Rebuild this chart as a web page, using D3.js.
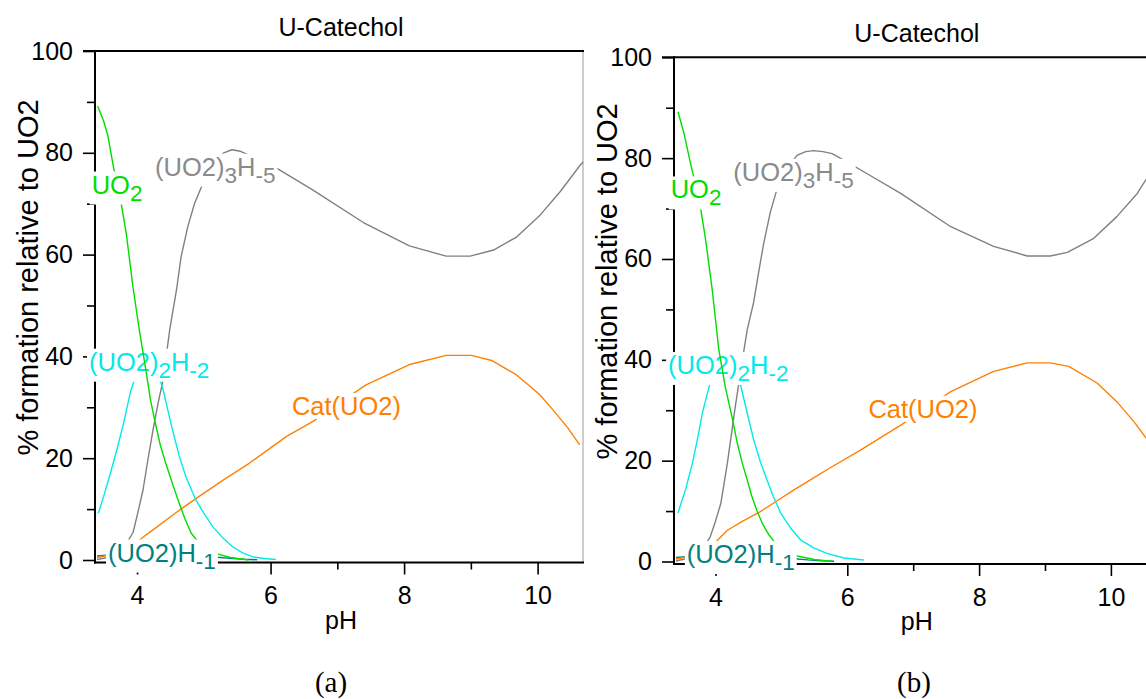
<!DOCTYPE html>
<html>
<head>
<meta charset="utf-8">
<script src="https://cdnjs.cloudflare.com/ajax/libs/d3/7.8.5/d3.min.js"></script>
<style>
  html, body { margin: 0; padding: 0; background: #fff; }
  svg { display: block; }
  text { font-family: "Liberation Sans", Arial, Helvetica, sans-serif; }
</style>
</head>
<body>
<svg id="chart" width="1146" height="699"></svg>
<script>
// ---- axis settings -------------------------------------------------------
const PH_DOMAIN = [3.37, 10.68];
const PCT_DOMAIN = [0, 100];
const PH_MAJOR = [4, 6, 8, 10];
const PH_MINOR = [5, 7, 9];
const PCT_MAJOR = [0, 20, 40, 60, 80, 100];
const PCT_MINOR = [10, 30, 50, 70, 90];

// ---- species distribution, panel (a): [pH, % formation] ------------------
const uo2A = [[3.41,89.2],[3.5,86.2],[3.56,83.5],[3.65,77],[3.76,70.2],[3.84,64],[3.94,53.5],[4.03,45.5],[4.13,37.5],[4.2,31.5],[4.28,26.5],[4.35,22.5],[4.43,19],[4.53,15],[4.63,11.2],[4.72,8],[4.81,5.3],[4.9,3.8],[5.0,2.6],[5.2,1.2],[5.4,0.5],[5.67,0]];
const dimerA = [[3.42,9.2],[3.5,12.5],[3.6,17],[3.7,21.8],[3.8,27],[3.9,33],[4.0,37],[4.1,39],[4.2,39.3],[4.3,37.3],[4.39,33.5],[4.46,29.5],[4.53,25.6],[4.63,20.5],[4.73,16.4],[4.88,11.8],[5.0,9.2],[5.13,6.6],[5.28,4.4],[5.43,2.6],[5.58,1.4],[5.73,0.65],[5.9,0.3],[6.08,0.1]];
const trimerA = [[3.4,0.1],[3.6,0.6],[3.75,1.8],[3.85,3.4],[3.94,5.4],[4.01,9.2],[4.09,13.8],[4.16,19.5],[4.24,25.6],[4.31,30.5],[4.39,35.4],[4.49,45.3],[4.59,53],[4.66,59.6],[4.76,65.5],[4.86,70],[4.99,74.1],[5.15,77.8],[5.3,80],[5.42,80.6],[5.55,80.3],[5.8,78.8],[6.09,77],[6.63,72.7],[7.39,66.3],[8.08,61.7],[8.63,59.7],[8.99,59.7],[9.34,60.9],[9.69,63.5],[10.04,67.8],[10.34,72.4],[10.64,77.6],[10.68,78.2]];
const catA = [[3.4,0.5],[3.6,1.0],[3.8,2.0],[4.0,3.5],[4.13,4.9],[4.3,6.5],[4.5,8.5],[4.7,10.4],[4.93,12.5],[5.3,15.8],[5.68,19],[6.24,24.3],[6.63,27.2],[7.0,30.6],[7.43,34.4],[8.08,38.4],[8.63,40.2],[9.01,40.2],[9.31,39.2],[9.68,36.4],[10.03,32.5],[10.23,29.5],[10.45,26],[10.63,22.6]];
const hydroxoA = [[3.4,0.8],[3.6,1.0],[3.9,1.3],[4.2,1.4],[4.5,1.3],[4.8,1.0],[5.0,0.8],[5.2,0.55],[5.4,0.32],[5.6,0.15],[5.8,0.05]];

// ---- species distribution, panel (b) -------------------------------------
const uo2B = [[3.43,89.2],[3.52,85],[3.62,79],[3.7,74.5],[3.77,70.4],[3.85,63.8],[3.95,53.9],[4.05,42],[4.15,34.5],[4.25,28.7],[4.33,23.5],[4.4,19.8],[4.48,16.2],[4.55,13],[4.63,10],[4.72,7.3],[4.81,5.3],[4.9,3.8],[5.0,2.6],[5.24,1.1],[5.5,0.4],[5.75,0.05]];
const dimerB = [[3.43,9.6],[3.55,14.5],[3.65,19.5],[3.73,24.5],[3.8,29.4],[3.87,33],[3.93,36],[4.03,38.5],[4.15,39.5],[4.25,38.5],[4.32,37],[4.38,35],[4.48,29.5],[4.58,24.1],[4.68,19.8],[4.78,16.2],[4.88,12.8],[4.99,9.6],[5.14,6.6],[5.29,4.3],[5.49,2.7],[5.69,1.6],[5.95,0.7],[6.25,0.3]];
const trimerB = [[3.4,0.1],[3.6,0.7],[3.75,2],[3.85,3.4],[3.92,4.9],[4.0,8],[4.08,11.5],[4.18,19.5],[4.3,30.7],[4.4,39.3],[4.48,45.9],[4.58,51.5],[4.66,57.8],[4.73,63],[4.83,69.2],[4.945,74.4],[5.1,78.2],[5.24,80.6],[5.37,81.3],[5.49,81.5],[5.63,81.3],[5.77,80.9],[6.0,79.2],[6.25,77.3],[6.81,73],[7.57,66.4],[8.22,62.5],[8.73,60.6],[9.08,60.6],[9.34,61.3],[9.74,64.1],[10.09,68.4],[10.4,73],[10.53,75.7],[10.68,78.5]];
const catB = [[3.4,0.5],[3.6,1.0],[3.8,2.0],[4.0,3.8],[4.18,6.2],[4.4,7.9],[4.68,9.9],[4.93,12],[5.19,14.2],[5.44,16.2],[5.69,18.2],[6.2,22.1],[6.83,27.2],[7.2,30.5],[7.57,33.7],[8.22,37.7],[8.73,39.4],[9.08,39.4],[9.36,38.7],[9.79,35.4],[10.09,31.7],[10.37,27.4],[10.54,24.4],[10.68,21.6]];
const hydroxoB = [[3.4,0.8],[3.6,1.0],[3.9,1.3],[4.2,1.4],[4.5,1.3],[4.8,1.0],[5.0,0.8],[5.2,0.55],[5.4,0.32],[5.6,0.15],[5.8,0.05]];

// ---- texts ---------------------------------------------------------------
const TITLE = "U-Catechol";
const X_TITLE = "pH";
const Y_TITLE = "% formation relative to UO2";
// label pieces: [text, isSubscript]
const LBL_UO2 = [["UO", false], ["2", true]];
const LBL_DIMER = [["(UO2)", false], ["2", true], ["H", false], ["-2", true]];
const LBL_TRIMER = [["(UO2)", false], ["3", true], ["H", false], ["-5", true]];
const LBL_CAT = [["Cat(UO2)", false]];
const LBL_HYDROXO = [["(UO2)", false], ["H", false], ["-1", true]];

const COLORS = {
  uo2: "#00dd00",
  dimer: "#00eaea",
  trimer: "#808080",
  cat: "#ff8000",
  hydroxo: "#008080"
};

const svg = d3.select("#chart");

function addLabel(g, parts, px, py, color) {
  const grp = g.append("g");
  const rect = grp.append("rect").attr("fill", "#fff");
  const t = grp.append("text")
    .attr("x", px).attr("y", py)
    .attr("fill", color)
    .style("font-size", "25.5px");
  let sub = false;
  parts.forEach(([s, isSub]) => {
    let dy = 0;
    if (isSub && !sub) dy = 7;
    if (!isSub && sub) dy = -7;
    sub = isSub;
    t.append("tspan").attr("dy", dy)
      .style("font-size", isSub ? "22.5px" : "25.5px")
      .text(s);
  });
  const bb = t.node().getBBox();
  rect.attr("x", bb.x - 2).attr("y", bb.y + 1)
    .attr("width", bb.width + 4).attr("height", bb.height - 2);
}

function drawPanel(p) {
  const g = svg.append("g");
  const x = d3.scaleLinear().domain(PH_DOMAIN).range(p.xRange);
  const y = d3.scaleLinear().domain(PCT_DOMAIN).range(p.yRange);
  const x0 = p.xRange[0], x1 = p.xRange[1];
  const yTop = y(100);

  // titles
  g.append("text").attr("x", (x0 + x1) / 2 + p.titleShift).attr("y", yTop - 15)
    .attr("text-anchor", "middle").style("font-size", "25px").text(TITLE);
  g.append("text").attr("x", (x0 + x1) / 2 + p.titleShift).attr("y", p.axisY + 66)
    .attr("text-anchor", "middle").style("font-size", "25px").text(X_TITLE);
  g.append("text")
    .attr("transform", `translate(${x0 - 57},${(yTop + y(0)) / 2 - 28}) rotate(-90)`)
    .attr("text-anchor", "middle").style("font-size", "29px").text(Y_TITLE);
  g.append("text").attr("x", p.captionX).attr("y", 692)
    .attr("text-anchor", "middle")
    .style("font-family", "'Liberation Serif', 'Times New Roman', serif")
    .style("font-size", "29px").text(p.caption);

  // frame
  g.append("line").attr("x1", x1).attr("x2", x1).attr("y1", yTop).attr("y2", p.axisY)
    .attr("stroke", "#9a9a9a").attr("stroke-width", 1);
  g.append("line").attr("x1", x0 - 12).attr("x2", x1 + 1).attr("y1", yTop).attr("y2", yTop)
    .attr("stroke", "#000").attr("stroke-width", 2);

  // y axis
  const ya = g.append("g").attr("transform", `translate(${x0},0)`)
    .call(d3.axisLeft(y).tickValues(PCT_MAJOR).tickSize(12).tickPadding(10).tickSizeOuter(0));
  const ym = g.append("g").attr("transform", `translate(${x0},0)`)
    .call(d3.axisLeft(y).tickValues(PCT_MINOR).tickSize(8).tickFormat("").tickSizeOuter(0));
  // x axis
  const xa = g.append("g").attr("transform", `translate(0,${p.axisY})`)
    .call(d3.axisBottom(x).tickValues(PH_MAJOR).tickSize(12).tickPadding(12).tickSizeOuter(0));
  const xm = g.append("g").attr("transform", `translate(0,${p.axisY})`)
    .call(d3.axisBottom(x).tickValues(PH_MINOR).tickSize(7).tickFormat("").tickSizeOuter(0));
  [ya, ym, xa, xm].forEach(a => {
    a.select(".domain").remove();
    a.selectAll("line").attr("stroke", "#000").attr("stroke-width", 1.6);
    a.selectAll("text").style("font-size", "25px")
      .style("font-family", "'Liberation Sans', Arial, sans-serif").attr("fill", "#000");
  });
  g.append("line").attr("x1", x0).attr("x2", x0).attr("y1", yTop - 1).attr("y2", p.axisY + 1)
    .attr("stroke", "#000").attr("stroke-width", 2);
  g.append("line").attr("x1", x0 - 1).attr("x2", x1 + 1).attr("y1", p.axisY).attr("y2", p.axisY)
    .attr("stroke", "#000").attr("stroke-width", 2);

  // curves
  const line = d3.line().x(d => x(d[0])).y(d => y(d[1]));
  const curve = (data, color) => g.append("path").datum(data)
    .attr("d", line).attr("fill", "none")
    .attr("stroke", color).attr("stroke-width", 1.4)
    .attr("stroke-linejoin", "round");

  curve(p.hydroxo, COLORS.hydroxo);
  curve(p.cat, COLORS.cat);
  curve(p.trimer, COLORS.trimer);
  curve(p.dimer, COLORS.dimer);
  addLabel(g, LBL_DIMER, x(3.28), y(37.2), COLORS.dimer);
  curve(p.uo2, COLORS.uo2);

  addLabel(g, LBL_UO2, x(3.32), y(72), COLORS.uo2);
  addLabel(g, LBL_TRIMER, x(4.27), y(75.5), "#8a8a8a");
  addLabel(g, LBL_CAT, x(6.32), y(28.5), COLORS.cat);
  addLabel(g, LBL_HYDROXO, x(3.565), y(-0.3), COLORS.hydroxo);
}

drawPanel({
  xRange: [95, 583], yRange: [560, 51], axisY: 562.5,
  titleShift: 2, caption: "(a)", captionX: 331,
  uo2: uo2A, dimer: dimerA, trimer: trimerA, cat: catA, hydroxo: hydroxoA
});
drawPanel({
  xRange: [674, 1155.7], yRange: [561.5, 57.3], axisY: 564,
  titleShift: 2, caption: "(b)", captionX: 914,
  uo2: uo2B, dimer: dimerB, trimer: trimerB, cat: catB, hydroxo: hydroxoB
});
</script>
</body>
</html>
